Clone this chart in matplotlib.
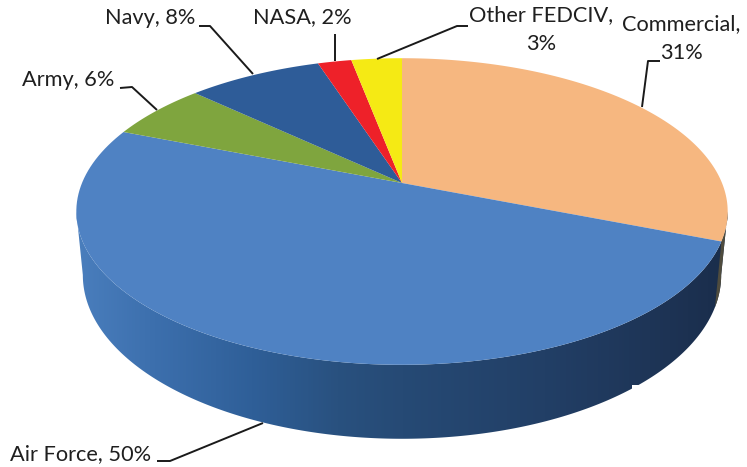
import numpy as np
import matplotlib
matplotlib.use("Agg")
import matplotlib.pyplot as plt
from matplotlib.patches import Polygon, Rectangle
from matplotlib.colors import LinearSegmentedColormap

# ── data ──────────────────────────────────────────────────
segments = ["Commercial", "Air Force", "Army", "Navy", "NASA", "Other FEDCIV"]
shares   = [31, 50, 6, 8, 2, 3]
colors   = ["#f6b780", "#4f82c3", "#7fa53e", "#2e5c98", "#ee2129", "#f5ea14"]

# ── pie projection, in picture pixels ─────────────────────
CX, CY = 402, 183
A, B, K = 148, 320, 0.186
WALL_DY, WALL_SX, WALL_SY = 61.6, 0.98, 1.068
TAN_R, TAN_L = 100.7, 259.3    # where the rim turns back

def rim(t_deg, bottom=False):
    # t is clockwise from the top of the pie
    t = np.radians(t_deg)
    u, v = np.sin(t), np.cos(t)
    x = B * u / (1 + K * v)
    s = A * v / (1 + K * v)
    if bottom:
        return CX + WALL_SX * x, CY - WALL_SY * s + WALL_DY
    return CX + x, CY - s

def wall_outline(t0, t1):
    ts = np.linspace(t0, t1, 300)
    xt, yt = rim(ts)
    xb, yb = rim(ts[::-1], bottom=True)
    return np.column_stack([np.r_[xt, xb], np.r_[yt, yb]])

plt.rcParams['font.family'] = ['Lato', 'DejaVu Sans']
fig = plt.figure(figsize=(7.47, 4.67), dpi=100)
ax = fig.add_axes([0, 0, 1, 1])

edges = 360 * np.cumsum([0] + shares) / sum(shares)

# ── side wall ─────────────────────────────────────────────
wall_cmap = LinearSegmentedColormap.from_list("wall", [
    (0.00, "#4a7ebd"), (0.12, "#3c6fad"), (0.27, "#2f5f98"), (0.40, "#29517f"),
    (0.50, "#264a75"), (0.72, "#223f66"), (0.88, "#1e3557"), (1.00, "#1a2d4b")])

img = ax.imshow(np.linspace(0, 1, 512)[None, :], cmap=wall_cmap, aspect='auto',
                extent=(76, 729, 450, 180), zorder=1)
img.set_clip_path(Polygon(wall_outline(TAN_R, TAN_L), transform=ax.transData))
ax.add_patch(Polygon(wall_outline(TAN_R, edges[1]), color="#4f4c3e", lw=0, zorder=1.5))

ax.set_xlim(0, 747)
ax.set_ylim(467, 0)
ax.axis('off')

# ── top face ──────────────────────────────────────────────
for i, c in enumerate(colors):
    ts = np.linspace(edges[i], edges[i + 1], 120)
    xs, ys = rim(ts)
    ax.fill(np.r_[CX, xs], np.r_[CY, ys], color=c, lw=0, zorder=2)

# white patch left over in the scan, bites the lower right rim
ax.add_patch(Rectangle((632, 385), 30, 20, color="white", lw=0, zorder=2.5))

# ── leader lines ──────────────────────────────────────────
leaders = [
    ([660, 648, 642], [61, 61, 107]),
    ([157, 170, 263], [461, 461, 423]),
    ([120, 132, 157], [88, 87, 110]),
    ([199, 210, 253], [26, 26, 74]),
    ([335, 335], [34, 61]),
    ([468, 457, 377], [26, 26, 59]),
]
for lx, ly in leaders:
    ax.plot(lx, ly, color="#1a1a1a", lw=1.4, zorder=3, solid_capstyle='butt')

# ── labels ────────────────────────────────────────────────
txt = dict(fontsize=15.7, color="#1f1f1f", va='center', zorder=4)
ax.text(10, 454, "Air Force, 50%", ha='left', **txt)
ax.text(22, 80, "Army, 6%", ha='left', **txt)
ax.text(105, 18, "Navy, 8%", ha='left', **txt)
ax.text(253, 17, "NASA, 2%", ha='left', **txt)
ax.text(541, 29.5, "Other FEDCIV,\n3%", ha='center', linespacing=1.6, **txt)
ax.text(681, 38.5, "Commercial,\n31%", ha='center', linespacing=1.6, **txt)

fig.savefig("out.png", dpi=100)
